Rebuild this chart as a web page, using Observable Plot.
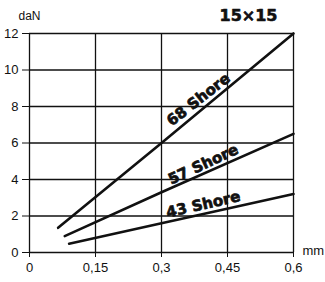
<!DOCTYPE html>
<html><head><meta charset="utf-8">
<script src="https://cdn.jsdelivr.net/npm/d3@7"></script>
<script src="https://cdn.jsdelivr.net/npm/@observablehq/plot@0.6"></script>
<style>body{margin:0;background:#fff}</style>
</head><body><div id="chart"></div>
<script>
const xTicks = [0, 0.15, 0.3, 0.45, 0.6];
const xTickLabels = ["0", "0,15", "0,3", "0,45", "0,6"];
const yTicks = [0, 2, 4, 6, 8, 10, 12];
const seriesNames = ["68 Shore", "57 Shore", "43 Shore"];
const x68 = [0.065, 0.3, 0.6], y68 = [1.35, 6.0, 12.0];
const x57 = [0.08, 0.3, 0.6], y57 = [0.9, 3.3, 6.5];
const x43 = [0.09, 0.3, 0.6], y43 = [0.48, 1.6, 3.2];
const labelX = [0.384, 0.395, 0.395];
const labelY = [8.38, 4.82, 2.63];
const labelAngle = [-38, -25, -13];
const title = "15×15", yUnit = "daN", xUnit = "mm";

const lines = [];
[[x68,y68],[x57,y57],[x43,y43]].forEach(([xs,ys],i)=>xs.forEach((x,j)=>lines.push({s:seriesNames[i],x,y:ys[j]})));
const labels = seriesNames.map((s,i)=>({s,x:labelX[i],y:labelY[i],a:labelAngle[i]}));
const fmtX = d => xTickLabels[xTicks.indexOf(d)];

const chart = Plot.plot({
  width: 325, height: 282,
  marginLeft: 29, marginRight: 32, marginTop: 33, marginBottom: 30,
  style: {fontFamily: "Liberation Sans, Arial, sans-serif", fontSize: "13px", color: "#111", background: "#fff"},
  x: {domain: [0, 0.6], label: null},
  y: {domain: [0, 12], label: null},
  marks: [
    Plot.ruleX(xTicks, {y1: 0, y2: 12, stroke: "#111", strokeWidth: 1.3}),
    Plot.ruleY(yTicks, {x1: 0, x2: 0.6, stroke: "#111", strokeWidth: 1.3}),
    Plot.axisX({ticks: xTicks, tickFormat: fmtX, tickSize: 5, tickPadding: 5, stroke: "#111", fontSize: 13, label: null}),
    Plot.axisY({ticks: yTicks, tickSize: 7, tickPadding: 4, stroke: "#111", fontSize: 13, label: null}),
    Plot.line(lines, {x: "x", y: "y", z: "s", stroke: "#111", strokeWidth: 2.6}),
    Plot.text(labels, {x: "x", y: "y", text: "s", rotate: "a", fontFamily: "DejaVu Sans", fontWeight: "bold", fontSize: 15, fill: "#111", stroke: "#111", strokeWidth: 0.7}),
    Plot.text([yUnit], {x: 0, y: 12, dy: -17, text: d=>d, fontSize: 12, textAnchor: "middle", fill: "#111"}),
    Plot.text([xUnit], {x: 0.6, y: 0, dx: 9, dy: -2, text: d=>d, fontSize: 13, textAnchor: "start", fill: "#111"}),
    Plot.text([title], {x: 0.6, y: 12, dx: -16, dy: -18, text: d=>d, fontFamily: "DejaVu Sans", fontWeight: "bold", fontSize: 16, textAnchor: "end", fill: "#111", stroke: "#111", strokeWidth: 0.6})
  ]
});
document.getElementById("chart").append(chart);
</script></body></html>
